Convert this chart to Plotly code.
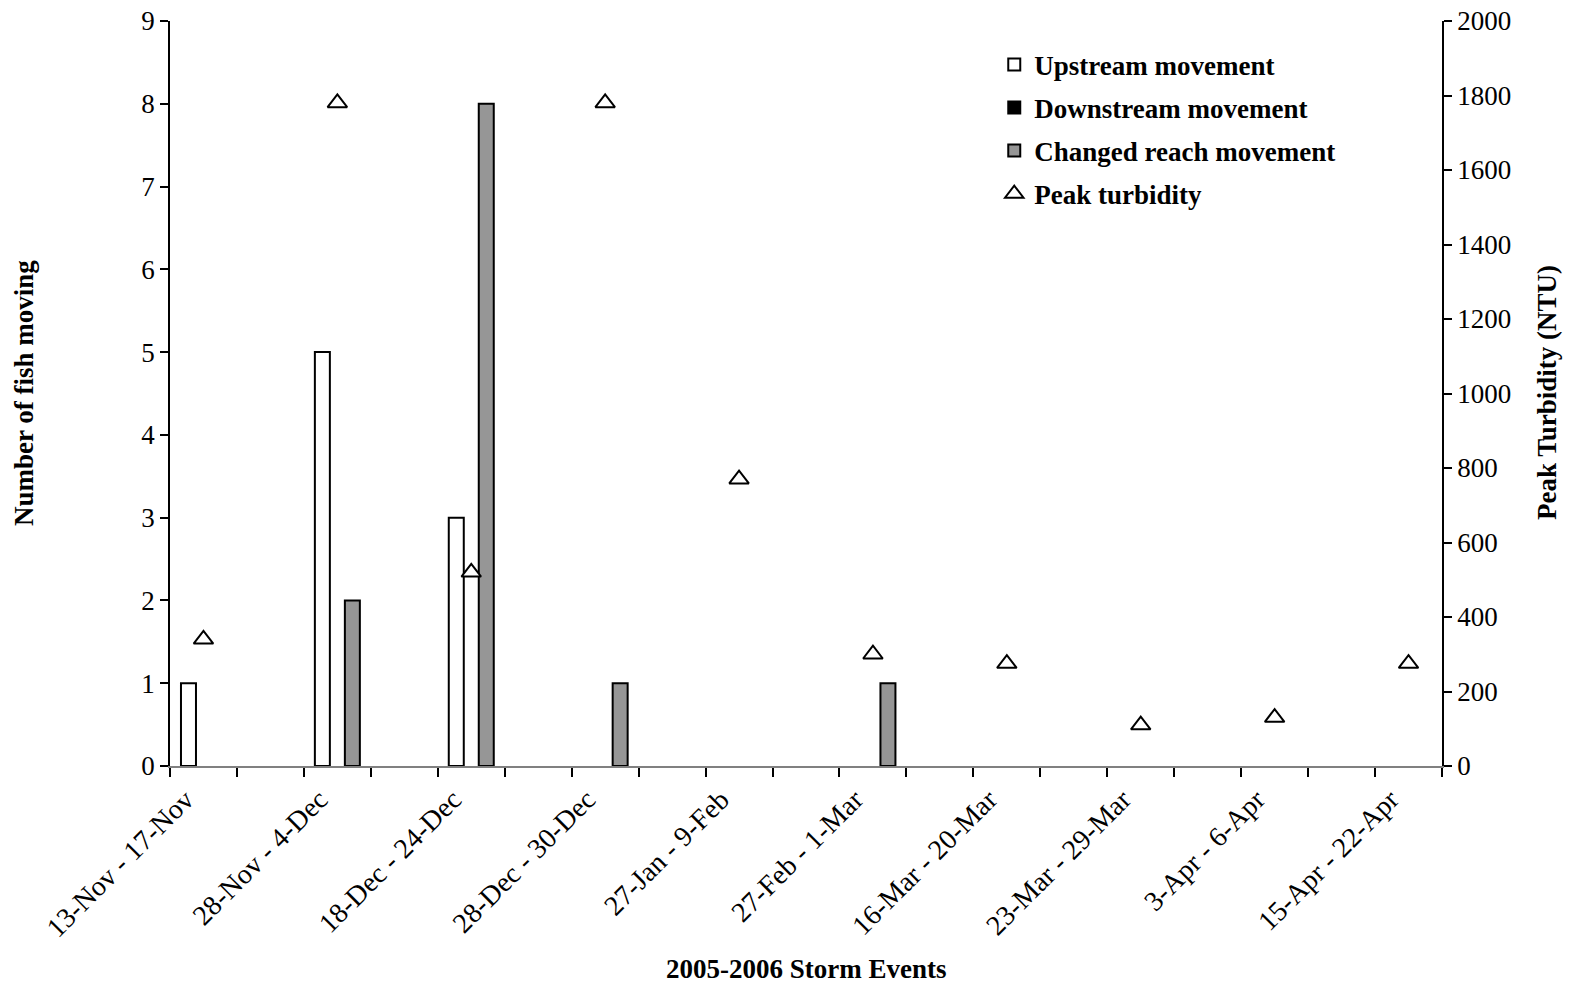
import plotly.graph_objects as go

categories = ["13-Nov - 17-Nov", "28-Nov - 4-Dec", "18-Dec - 24-Dec", "28-Dec - 30-Dec",
              "27-Jan - 9-Feb", "27-Feb - 1-Mar", "16-Mar - 20-Mar", "23-Mar - 29-Mar",
              "3-Apr - 6-Apr", "15-Apr - 22-Apr"]
upstream = [1, 5, 3, 0, 0, 0, 0, 0, 0, 0]
downstream = [0, 0, 0, 0, 0, 0, 0, 0, 0, 0]
changed_reach = [0, 2, 8, 1, 0, 1, 0, 0, 0, 0]
peak_turbidity = [340, 1780, 520, 1780, 770, 300, 275, 110, 130, 275]

# each storm event occupies every other slot on the category axis
xpos = [2 * i for i in range(len(categories))]
nslots = 2 * len(categories) - 1


def nz(vals):
    # zero-height bars are not drawn (as in the original)
    return [v if v else None for v in vals]


FONT = "Liberation Serif"
BW = 0.224

fig = go.Figure()
fig.add_trace(go.Bar(x=xpos, y=nz(upstream), name="Upstream movement", width=BW, offset=-1.5 * BW,
                     marker=dict(color="white", line=dict(color="black", width=2)),
                     legendgroup="a"))
fig.add_trace(go.Bar(x=xpos, y=nz(downstream), name="Downstream movement", width=BW, offset=-0.5 * BW,
                     marker=dict(color="black", line=dict(color="black", width=2)),
                     legendgroup="b"))
fig.add_trace(go.Bar(x=xpos, y=nz(changed_reach), name="Changed reach movement", width=BW, offset=0.5 * BW,
                     marker=dict(color="#969696", line=dict(color="black", width=2)),
                     legendgroup="c"))
fig.add_trace(go.Scatter(x=xpos, y=peak_turbidity, name="Peak turbidity", mode="markers", yaxis="y2",
                         marker=dict(symbol="triangle-up", size=17, color="white",
                                     line=dict(color="black", width=2)),
                         legendgroup="d"))

fig.update_layout(
    width=1570, height=987,
    margin=dict(l=170, r=128, t=21, b=221, autoexpand=False),
    paper_bgcolor="white", plot_bgcolor="white",
    barmode="overlay",
    font=dict(family=FONT, size=27, color="black"),
    showlegend=True,
    legend=dict(x=0.648, y=0.974, xanchor="left", yanchor="top",
                font=dict(family=FONT, size=27, color="black", weight="bold"),
                bgcolor="rgba(0,0,0,0)", tracegroupgap=5, itemwidth=30),
    xaxis=dict(range=[-0.5, nslots - 0.5], tickmode="array", tickvals=xpos, ticktext=categories,
               tickangle=-45, ticks="", showgrid=False, zeroline=False,
               showline=True, linecolor="#808080", linewidth=2, layer="below traces",
               tickfont=dict(family=FONT, size=28), ticklabelshift=-18, ticklabelstandoff=4,
               minor=dict(tickmode="array", tickvals=[k - 0.5 for k in range(nslots + 1)],
                          ticks="outside", ticklen=9, tickcolor="black", tickwidth=1.5,
                          showgrid=False)),
    yaxis=dict(range=[0, 9], dtick=1, ticks="outside", ticklen=8, tickcolor="black", tickwidth=1.5,
               showline=True, linecolor="black", linewidth=1.5, showgrid=False, zeroline=False,
               tickfont=dict(family=FONT, size=27)),
    yaxis2=dict(range=[0, 2000], dtick=200, overlaying="y", side="right", ticks="outside",
                ticklen=8, tickcolor="black", tickwidth=1.5, showline=True, linecolor="black",
                linewidth=1.5, showgrid=False, zeroline=False, tickfont=dict(family=FONT, size=27)),
)

pw, ph = 1570 - 170 - 128, 987 - 21 - 221


def px(x):
    return (x - 170) / pw


def py(y):
    return (987 - 221 - y) / ph


fig.add_annotation(text="Number of fish moving", x=px(24), y=py(393), xref="paper", yref="paper",
                   showarrow=False, textangle=-90, xanchor="center", yanchor="middle",
                   font=dict(family=FONT, size=27, weight="bold"))
fig.add_annotation(text="Peak Turbidity (NTU)", x=px(1547), y=py(393), xref="paper", yref="paper",
                   showarrow=False, textangle=-90, xanchor="center", yanchor="middle",
                   font=dict(family=FONT, size=27, weight="bold"))
fig.add_annotation(text="2005-2006 Storm Events", x=px(806), y=py(969), xref="paper", yref="paper",
                   showarrow=False, xanchor="center", yanchor="middle",
                   font=dict(family=FONT, size=27, weight="bold"))

fig.write_html("out.html")
